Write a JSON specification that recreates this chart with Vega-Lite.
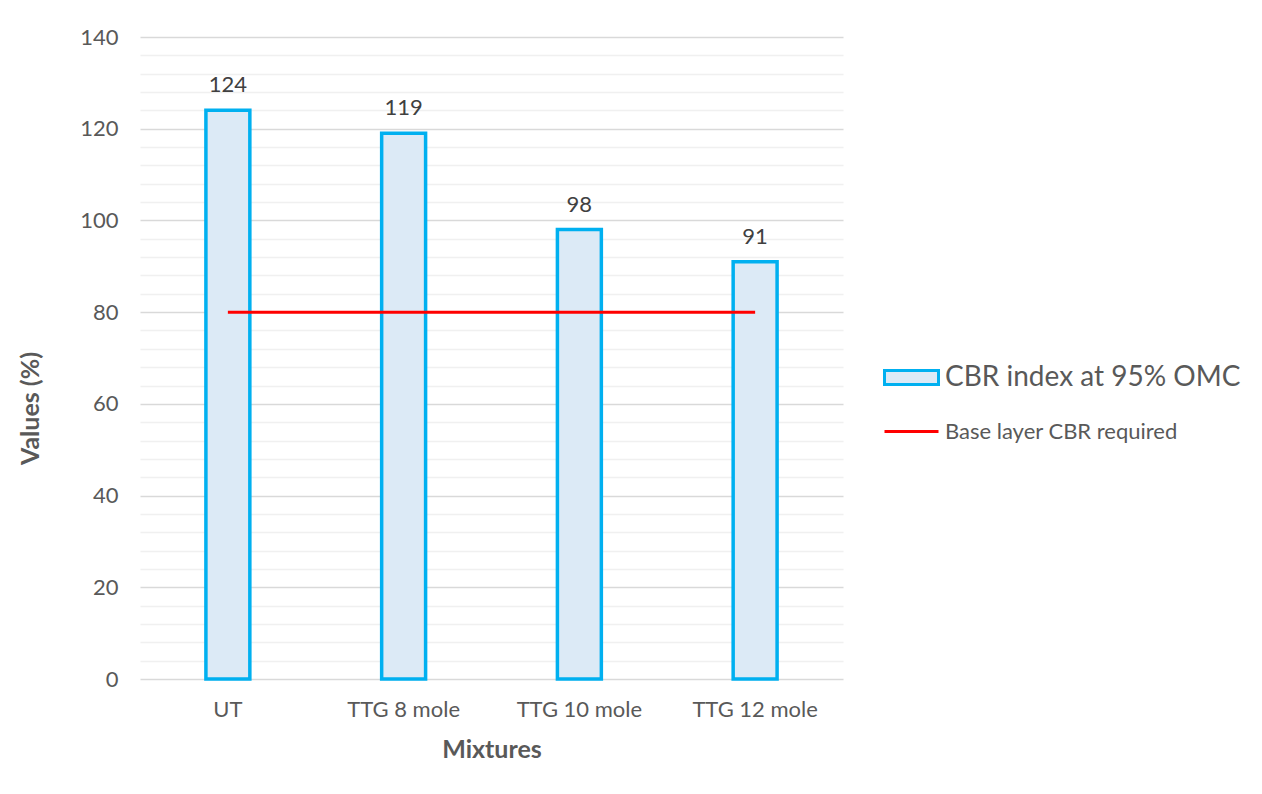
{
  "$schema": "https://vega.github.io/schema/vega-lite/v6.json",
  "width": 703,
  "height": 642,
  "autosize": "none",
  "padding": {"left": 140, "top": 37, "right": 419, "bottom": 115},
  "background": "white",
  "config": {
    "view": {"stroke": null},
    "font": "Lato",
    "text": {"font": "Lato"}
  },
  "datasets": {
    "bars": [
      {"mixture": "UT", "value": 124},
      {"mixture": "TTG 8 mole", "value": 119},
      {"mixture": "TTG 10 mole", "value": 98},
      {"mixture": "TTG 12 mole", "value": 91}
    ],
    "base": [
      {"mixture": "UT", "required": 80},
      {"mixture": "TTG 8 mole", "required": 80},
      {"mixture": "TTG 10 mole", "required": 80},
      {"mixture": "TTG 12 mole", "required": 80}
    ]
  },
  "layer": [
    {
      "data": {"name": "bars"},
      "mark": {"type": "bar", "stroke": "#00B0F0", "strokeWidth": 3.5},
      "encoding": {
        "x": {
          "field": "mixture", "type": "nominal", "sort": null,
          "scale": {"paddingInner": 0.75, "paddingOuter": 0.375},
          "axis": {
            "title": "Mixtures", "labelAngle": 0, "domain": false, "ticks": false,
            "labelFont": "Lato", "labelFontSize": 22, "labelColor": "#595959", "labelPadding": 20,
            "titleFont": "Lato", "titleFontSize": 25, "titleFontWeight": "bold", "titleColor": "#595959", "titlePadding": 17
          }
        },
        "y": {
          "field": "value", "type": "quantitative",
          "scale": {"domain": [0, 140], "nice": false},
          "axis": {
            "title": "Values (%)",
            "values": [0,4,8,12,16,20,24,28,32,36,40,44,48,52,56,60,64,68,72,76,80,84,88,92,96,100,104,108,112,116,120,124,128,132,136,140],
            "tickCount": 100,
            "labelOverlap": false,
            "labelExpr": "datum.value % 20 === 0 ? datum.label : ''",
            "gridColor": {"condition": {"test": "datum.value % 20 === 0", "value": "#d9d9d9"}, "value": "#f0f0f0"},
            "gridWidth": 1.3,
            "domain": false, "ticks": false,
            "labelFont": "Lato", "labelFontSize": 22, "labelColor": "#595959", "labelPadding": 22,
            "titleFont": "Lato", "titleFontSize": 25, "titleFontWeight": "bold", "titleColor": "#595959", "titlePadding": 36,
            "titleY": 371
          }
        },
        "fill": {
          "datum": "CBR index at 95% OMC", "type": "nominal",
          "scale": {"range": ["#dceaf6"]},
          "legend": {
            "title": null, "orient": "none", "legendX": 743, "legendY": 312, "padding": 0,
            "symbolType": "M-1,-0.26H1V0.26H-1Z", "symbolSize": 2916,
            "symbolStrokeColor": "#00B0F0", "symbolStrokeWidth": 3, "symbolOpacity": 1,
            "labelFont": "Lato", "labelFontSize": 28, "labelColor": "#595959", "labelOffset": 5, "labelLimit": 400
          }
        }
      }
    },
    {
      "data": {"name": "bars"},
      "mark": {"type": "text", "baseline": "bottom", "dy": -13, "font": "Lato", "fontSize": 22, "color": "#404040"},
      "encoding": {
        "x": {"field": "mixture", "type": "nominal", "sort": null},
        "y": {"field": "value", "type": "quantitative"},
        "text": {"field": "value", "type": "quantitative"}
      }
    },
    {
      "data": {"name": "base"},
      "mark": {"type": "line", "strokeWidth": 3},
      "encoding": {
        "x": {"field": "mixture", "type": "nominal", "sort": null},
        "y": {"field": "required", "type": "quantitative"},
        "stroke": {
          "datum": "Base layer CBR required", "type": "nominal",
          "scale": {"range": ["#ff0000"]},
          "legend": {
            "title": null, "orient": "none", "legendX": 743, "legendY": 366, "padding": 0,
            "symbolType": "stroke", "symbolSize": 2916, "symbolStrokeWidth": 3,
            "labelFont": "Lato", "labelFontSize": 22, "labelColor": "#595959", "labelOffset": 5, "labelLimit": 400
          }
        }
      }
    }
  ]
}
